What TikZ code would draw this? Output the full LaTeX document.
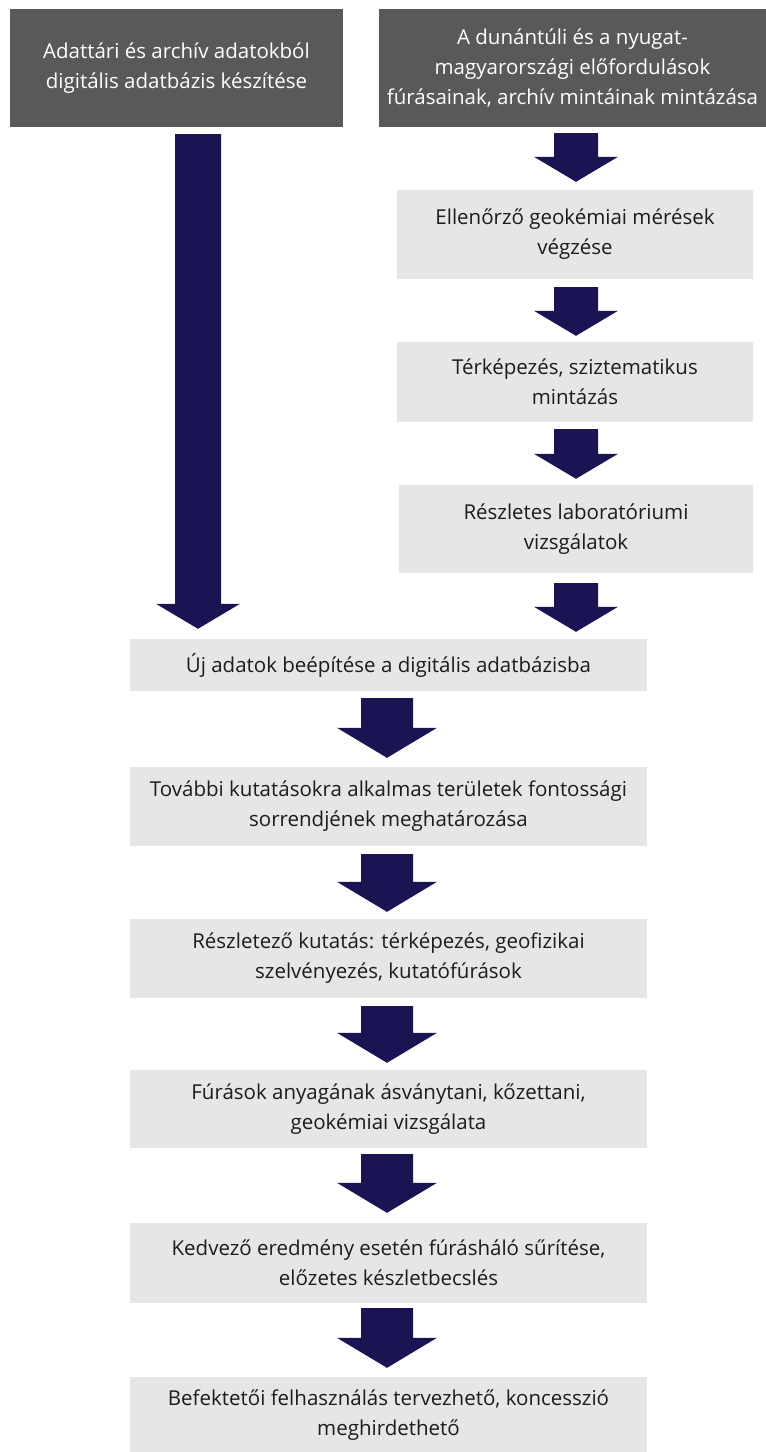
\documentclass[tikz,border=0pt]{standalone}
\usepackage{fontspec}
\setmainfont{Open Sans}
\usetikzlibrary{calc}
\definecolor{darkbox}{RGB}{89,89,89}
\definecolor{lightbox}{RGB}{231,230,230}
\definecolor{navyarrow}{RGB}{27,20,83}
\definecolor{boxtext}{RGB}{28,28,28}
% #1 x centre, #2 from node, #3 to node, #4 half shaft, #5 half head,
% #6 head length, #7 gap below source, #8 gap above target
\newcommand\blockarrow[8]{%
  \fill[navyarrow] let \p1=(#2.south), \p2=(#3.north) in
    (#1pt-#4pt,\y1-#7pt) -- (#1pt+#4pt,\y1-#7pt) --
    (#1pt+#4pt,\y2+#8pt+#6pt) -- (#1pt+#5pt,\y2+#8pt+#6pt) --
    (#1pt,\y2+#8pt) --
    (#1pt-#5pt,\y2+#8pt+#6pt) -- (#1pt-#4pt,\y2+#8pt+#6pt) -- cycle;}
\begin{document}
\begin{tikzpicture}[x=1pt,y=-1pt,
  darkstyle/.style={fill=darkbox,text=white,align=center,inner sep=0pt,
    font=\fontsize{20.5}{30}\selectfont},
  lightstyle/.style={fill=lightbox,text=boxtext,align=center,inner sep=0pt,
    font=\fontsize{20.5}{30}\selectfont}]
\useasboundingbox (0,0) rectangle (766,1452);

\node[darkstyle,minimum width=333pt,minimum height=118pt] (tl) at (176.5,68)
  {Adattári és archív adatokból\\digitális adatbázis készítése};
\node[darkstyle,minimum width=387pt,minimum height=118pt] (tr) at (572.5,68)
  {A dunántúli és a nyugat-\\magyarországi előfordulások\\fúrásainak, archív mintáinak mintázása};

\node[lightstyle,minimum width=356pt,minimum height=89pt] (r1) at (575,234.5)
  {Ellenőrző geokémiai mérések\\végzése};
\node[lightstyle,minimum width=356pt,minimum height=80pt] (r2) at (575,382)
  {Térképezés, sziztematikus\\mintázás};
\node[lightstyle,minimum width=354pt,minimum height=88pt] (r3) at (576,529)
  {Részletes laboratóriumi\\vizsgálatok};

\node[lightstyle,minimum width=517pt,minimum height=52pt] (b1) at (388.5,665)
  {Új adatok beépítése a digitális adatbázisba};
\node[lightstyle,minimum width=517pt,minimum height=79pt] (b2) at (388.5,806.5)
  {További kutatásokra alkalmas területek fontossági\\sorrendjének meghatározása};
\node[lightstyle,minimum width=517pt,minimum height=79pt] (b3) at (388.5,958.5)
  {Részletező kutatás: térképezés, geofizikai\\szelvényezés, kutatófúrások};
\node[lightstyle,minimum width=517pt,minimum height=78pt] (b4) at (388.5,1109)
  {Fúrások anyagának ásványtani, kőzettani,\\geokémiai vizsgálata};
\node[lightstyle,minimum width=517pt,minimum height=80pt] (b5) at (388.5,1263)
  {Kedvező eredmény esetén fúrásháló sűrítése,\\előzetes készletbecslés};
\node[lightstyle,minimum width=517pt,minimum height=76pt] (b6) at (388.5,1415)
  {Befektetői felhasználás tervezhető, koncesszió\\meghirdethető};

% left long arrow
\blockarrow{198}{tl}{b1}{23}{42}{25}{7}{10}
% right column arrows
\blockarrow{576}{tr}{r1}{22}{42}{25}{6}{8}
\blockarrow{576}{r1}{r2}{22}{42}{25}{8}{6}
\blockarrow{576}{r2}{r3}{22}{42}{25}{7}{6}
\blockarrow{576}{r3}{b1}{22}{42}{25}{10}{7}
% bottom column arrows
\blockarrow{387}{b1}{b2}{26}{50}{30}{7}{9}
\blockarrow{387}{b2}{b3}{26}{50}{30}{8}{7}
\blockarrow{387}{b3}{b4}{26}{50}{30}{8}{7}
\blockarrow{387}{b4}{b5}{26}{50}{30}{6}{10}
\blockarrow{387}{b5}{b6}{26}{50}{30}{5}{9}
\end{tikzpicture}
\end{document}
